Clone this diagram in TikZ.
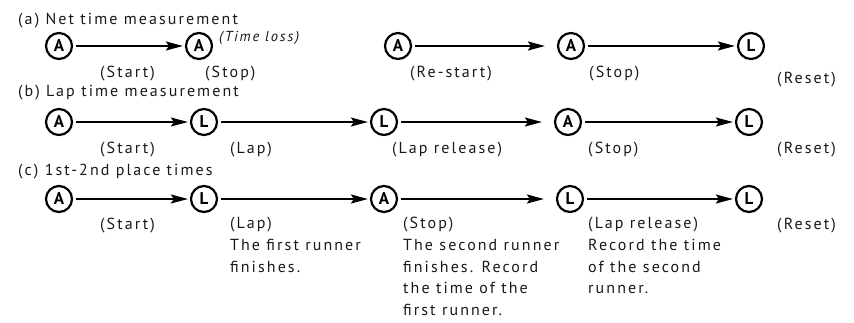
\documentclass[tikz,border=0pt]{standalone}
\usepackage{fontspec}
\setmainfont{PT Sans}[LetterSpace=13]
\usetikzlibrary{arrows.meta}
\colorlet{keyInk}{black}
\colorlet{textInk}{black!90}
\tikzset{
  key/.style={circle,draw=keyInk,line width=2.2pt,inner sep=0pt,minimum size=26pt,
    font=\bfseries\fontsize{17}{17}\selectfont},
  flow/.style={-{Stealth[length=17pt,width=9pt,inset=3pt]},line width=1.7pt,keyInk,
    shorten <=3pt,shorten >=2pt},
  far/.style={shorten >=12pt},
  note/.style={anchor=base west,inner sep=0pt,align=left,textInk,
    font=\fontsize{16}{21.8}\selectfont},
  block/.style={note,anchor=north west},
}
\NewDocumentCommand\DrawKey{mmmm}%
{%
\node[key] (#1) at ({#2},{#3}) {#4};%
}

\begin{document}
\begin{tikzpicture}[x=1pt,y=-1pt]
\useasboundingbox (0,0) rectangle (854,322);
% (a)
\node[note] (ta) at (18,24) {(a) Net time measurement};
\DrawKey{a1}{59}{46}{A}
\DrawKey{a2}{199}{46}{A}
\DrawKey{a3}{398}{46}{A}
\DrawKey{a4}{571}{46}{A}
\DrawKey{a5}{751}{46}{L}
\draw[flow] (a1) -- (a2);
\draw[flow,far] (a3) -- (a4);
\draw[flow] (a4) -- (a5);
\node[note] (la1) at (100,77) {(Start)};
\node[note,font=\itshape\fontsize{14.5}{14.5}\selectfont] (la0) at (219,41) {(Time loss)};
\node[note] (la2) at (205,77) {(Stop)};
\node[note] (la3) at (410,77) {(Re-start)};
\node[note] (la4) at (589,77) {(Stop)};
\node[note] (la5) at (777,83) {(Reset)};
% (b)
\node[note] (tb) at (18,96) {(b) Lap time measurement};
\DrawKey{b1}{59}{122}{A}
\DrawKey{b2}{204}{122}{L}
\DrawKey{b3}{384}{122}{L}
\DrawKey{b4}{568}{122}{A}
\DrawKey{b5}{749}{122}{L}
\draw[flow] (b1) -- (b2);
\draw[flow] (b2) -- (b3);
\draw[flow,far] (b3) -- (b4);
\draw[flow] (b4) -- (b5);
\node[note] (lb1) at (100,153) {(Start)};
\node[note] (lb2) at (230,153) {(Lap)};
\node[note] (lb3) at (392,153) {(Lap release)};
\node[note] (lb4) at (588,153) {(Stop)};
\node[note] (lb5) at (777,153) {(Reset)};
% (c)
\node[note] (tc) at (18,175) {(c) 1st-2nd place times};
\DrawKey{c1}{59}{199}{A}
\DrawKey{c2}{204}{199}{L}
\DrawKey{c3}{384}{199}{A}
\DrawKey{c4}{570}{199}{L}
\DrawKey{c5}{749}{199}{L}
\draw[flow] (c1) -- (c2);
\draw[flow] (c2) -- (c3);
\draw[flow,far] (c3) -- (c4);
\draw[flow] (c4) -- (c5);
\node[note] (lc1) at (100,229) {(Start)};
\node[block] (lc2) at (230,217) {(Lap)\\The first runner\\finishes.};
\node[block] (lc3) at (403,217) {(Stop)\\The second runner\\finishes. Record\\the time of the\\first runner.};
\node[block] (lc4) at (588,217) {(Lap release)\\Record the time\\of the second\\runner.};
\node[note] (lc5) at (777,229) {(Reset)};
\end{tikzpicture}
\end{document}
